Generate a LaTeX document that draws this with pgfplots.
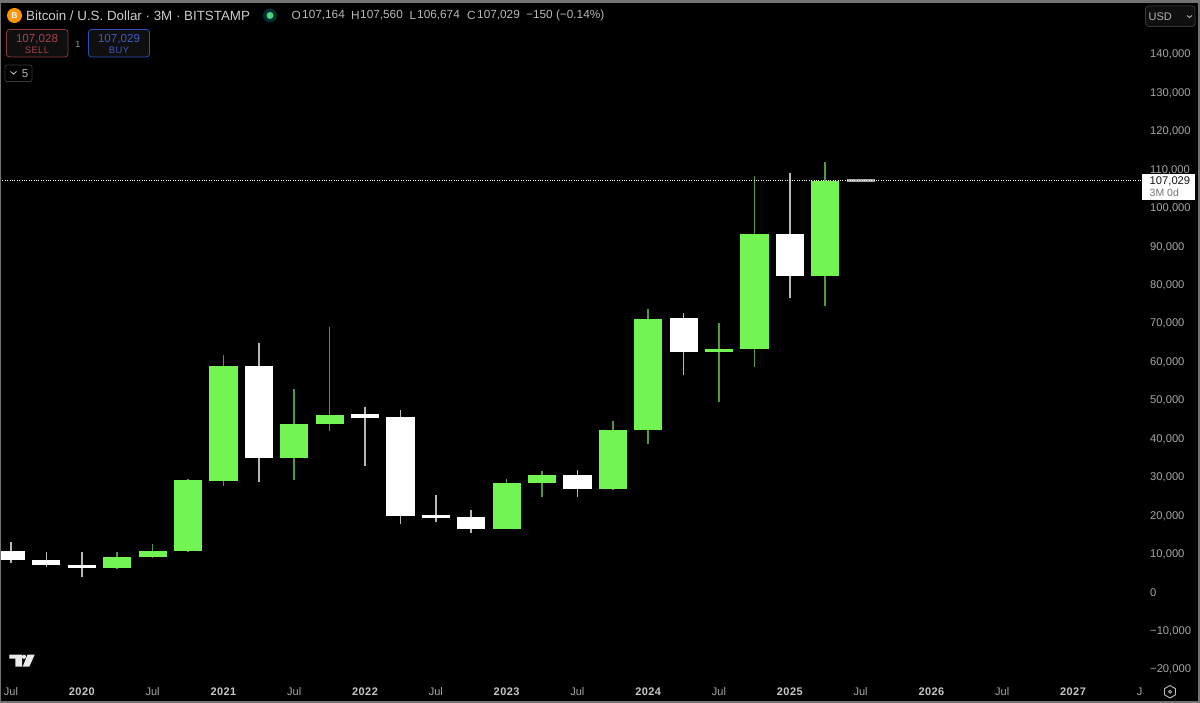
\documentclass[border=0pt]{standalone}
\usepackage{fontspec}
\setmainfont{Liberation Sans}
\newfontfamily\spaced[LetterSpace=4]{Liberation Sans}
\usepackage{pgfplots}
\usepackage{pgfplotstable}
\pgfplotsset{compat=1.18}
\definecolor{cgreen}{HTML}{72F552}
\definecolor{wgreen}{HTML}{4F9A3F}
\definecolor{wwhite}{HTML}{B8B8B8}
\definecolor{lbl}{HTML}{A6A6A6}
\definecolor{yr}{HTML}{C6C6C6}
\definecolor{sellc}{HTML}{A8414A}
\definecolor{sellb}{HTML}{8F3A3A}
\definecolor{buyc}{HTML}{3F5CC4}
\definecolor{buyb}{HTML}{2F4FBE}
\definecolor{btn}{HTML}{0F0F0F}
\pgfplotstableread{
i top bot hi lo
3 9029 6323 10408 6063
4 10746 9029 12412 8847
5 29065 10668 29273 10408
6 58727 28804 61667 27659
8 43714 34867 52821 29142
9 46133 43636 69031 41892
14 28362 16393 29325 16315
15 30365 28284 31406 24797
17 42152 26801 44572 26540
18 71113 42075 73637 38431
20 63151 62448 69916 49516
21 93230 63151 108243 58545
23 106942 82301 111886 74417
}\greendata
\pgfplotstableread{
i top bot hi lo
0 10746 8248 13088 7624
1 8326 6947 10330 6427
2 7103 6245 10408 3825
7 58727 34867 64868 28544
10 46238 45197 48137 32863
11 45457 19775 47356 17616
12 20035 19333 25239 18136
13 19437 16393 21414 15430
16 30365 26801 31744 24797
19 71217 62448 72518 56385
22 93152 82223 109102 76499
}\whitedata
\pgfplotstableread{
i top bot hi lo
24 107164 107029 107560 106674
}\currentdata
\newcommand{\wick}[2]{\addplot[draw=none,mark=none,forget plot,error bars/.cd,y dir=plus,y explicit,error mark=none,error bar style={line width=1.5pt,color=#2}] table[x=i,y=lo,y error plus expr=\thisrow{hi}-\thisrow{lo}] {#1};}
\newcommand{\body}[2]{\addplot[draw=none,mark=none,forget plot,error bars/.cd,y dir=plus,y explicit,error mark=none,error bar style={line width=28.2pt,color=#2}] table[x=i,y=bot,y error plus expr=\thisrow{top}-\thisrow{bot}] {#1};}
\newcommand{\yrl}[1]{\textcolor{yr}{\spaced\bfseries #1}}
\begin{document}
\begin{tikzpicture}[x=1pt,y=1pt]
\useasboundingbox (0,0) rectangle (1200,703);
\fill[black] (0,0) rectangle (1200,703);
\begin{axis}[
  at={(0pt,0pt)},anchor=south west,
  scale only axis,width=1200pt,height=703pt,
  xmin=-0.3107,xmax=33.5876,ymin=-28883,ymax=154044,
  axis line style={draw=none},
  major tick length=0pt,
  ytick={-20000,-10000,0,10000,20000,30000,40000,50000,60000,70000,80000,90000,100000,110000,120000,130000,140000},
  yticklabels={−20{,}000,−10{,}000,0,10{,}000,20{,}000,30{,}000,40{,}000,50{,}000,60{,}000,70{,}000,80{,}000,90{,}000,100{,}000,110{,}000,120{,}000,130{,}000,140{,}000},
  yticklabel pos=right,
  yticklabel style={anchor=west,xshift=-50pt,yshift=-0.8pt,inner xsep=0pt,font=\fontsize{11.2}{13}\selectfont,text=lbl},
  xtick={0,2,4,6,8,10,12,14,16,18,20,22,24,26,28,30,32},
  xticklabels={Jul,\yrl{2020},Jul,\yrl{2021},Jul,\yrl{2022},Jul,\yrl{2023},Jul,\yrl{2024},Jul,\yrl{2025},Jul,\yrl{2026},Jul,\yrl{2027},J\phantom{ul}},
  xticklabel style={anchor=center,yshift=11pt,inner sep=0pt,font=\fontsize{11}{13}\selectfont,text=lbl},
]
\wick{\greendata}{wgreen}
\wick{\whitedata}{wwhite}
\body{\greendata}{cgreen}
\body{\whitedata}{white}
\addplot[draw=none,mark=none,forget plot,error bars/.cd,y dir=plus,y explicit,error mark=none,error bar style={line width=28.2pt,color=white!65!black}] table[x=i,y=lo,y error plus expr=\thisrow{hi}-\thisrow{lo}] {\currentdata};
\addplot[white,line width=0.9pt,dash pattern=on 1pt off 1.4pt,forget plot] coordinates {(-0.3107,107029) (31.92,107029)};
\end{axis}
\begin{scope}[shift={(0,703)},y=-1pt]
  % frame
  \fill[black!55!white] (0,0) rectangle (1200,3);
  \fill[black!55!white] (0,0) rectangle (1,703);
  \fill[black!55!white] (1198,0) rectangle (1200,703);
  \fill[black!55!white] (0,701.5) rectangle (1200,703);
  % header
  \fill[orange!85!yellow] (14.5,15.5) circle (7.5);
  \node[white,font=\bfseries\fontsize{8.5}{9}\selectfont] at (14.5,15.7) {B};
  \node[anchor=west,inner sep=0pt,text=white!80!black,font=\fontsize{13.35}{15}\selectfont] at (26,15.5) {Bitcoin / U.S. Dollar · 3M · BITSTAMP};
  \fill[teal!35!black] (270,15.5) circle (7);
  \fill[teal!50!green!70!white] (270,15.5) circle (3.5);
  \begin{scope}[every node/.style={anchor=west,inner sep=0pt,text=white!72!black,font=\fontsize{11.8}{13}\selectfont}]
  \node at (291.5,15.5) {O};
  \node at (302,15.5) {107,164};
  \node at (351,15.5) {H};
  \node at (360,15.5) {107,560};
  \node at (409.5,15.5) {L};
  \node at (417,15.5) {106,674};
  \node at (467,15.5) {C};
  \node at (477,15.5) {107,029};
  \node at (526,15.5) {−150 (−0.14\%)};
  \end{scope}
  % buttons
  \draw[fill=btn,draw=sellb,line width=0.8pt,rounded corners=3pt] (6.5,29.5) rectangle (68,57);
  \node[text=sellc,font=\fontsize{11.6}{13}\selectfont] at (37,39) {107,028};
  \node[text=sellc,font=\spaced\fontsize{9.4}{11}\selectfont] at (37,50.5) {SELL};
  \node[text=white!60!black,font=\fontsize{9}{11}\selectfont] at (78,44) {1};
  \draw[fill=btn,draw=buyb,line width=0.8pt,rounded corners=3pt] (88.5,29.5) rectangle (149.5,57);
  \node[text=buyc,font=\fontsize{11.6}{13}\selectfont] at (119,39) {107,029};
  \node[text=buyc,font=\spaced\fontsize{9.4}{11}\selectfont] at (119,50.5) {BUY};
  \draw[fill=black,draw=white!22!black,line width=0.7pt,rounded corners=2pt] (5,65) rectangle (32,81.5);
  \draw[white!75!black,line width=0.9pt] (10.5,71.5) -- (13.5,74) -- (16.5,71.5);
  \node[text=white!72!black,font=\fontsize{11.5}{13}\selectfont] at (25,73.5) {5};
  % USD
  \draw[fill=btn,draw=white!22!black,line width=0.8pt,rounded corners=3pt] (1145.5,6) rectangle (1195,26.5);
  \node[anchor=west,inner sep=0pt,text=white!70!black,font=\fontsize{11}{13}\selectfont] at (1148.5,16.5) {USD};
  \draw[white!70!black,line width=0.9pt] (1187,15.5) -- (1189.5,17.5) -- (1192,15.5);
  % price label
  \fill[white] (1142,174.5) rectangle (1195,200);
  \node[anchor=west,inner sep=0pt,text=black!90!white,font=\fontsize{11.2}{13}\selectfont] at (1149.5,181) {107,029};
  \node[anchor=west,inner sep=0pt,text=black!55!white,font=\fontsize{10.5}{13}\selectfont] at (1149.5,193) {3M 0d};
  % TV logo
  \fill[white!92!black] (9.3,654.7) -- (22,654.7) -- (22,666.7) -- (15.3,666.7) -- (15.3,658.7) -- (9.3,658.7) -- cycle;
  \fill[white!92!black] (24,656.8) circle (2.1);
  \fill[white!92!black] (27.5,654.7) -- (34.7,654.7) -- (29.3,666.7) -- (22.7,666.7) -- cycle;
  % settings icon
  \draw[white!75!black,line width=0.9pt] (1170,685.5) -- (1175.5,688.7) -- (1175.5,694.8) -- (1170,698) -- (1164.5,694.8) -- (1164.5,688.7) -- cycle;
  \draw[white!75!black,line width=0.8pt] (1170,691.7) circle (1.5);
\end{scope}
\end{tikzpicture}
\end{document}
